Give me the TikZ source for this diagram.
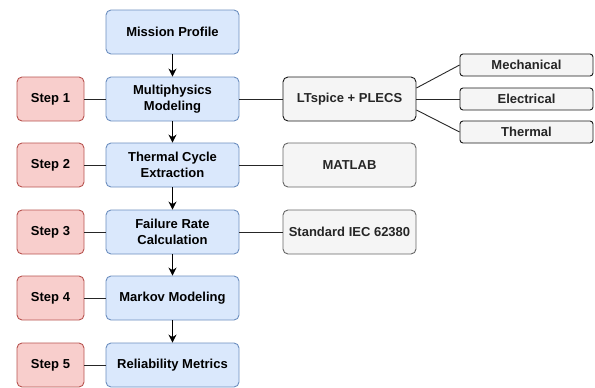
\documentclass[tikz,border=0pt]{standalone}
\usepackage{fontspec}
\setmainfont{Liberation Sans}
\usetikzlibrary{arrows.meta}

\definecolor{mainfill}{HTML}{DAE8FC}
\definecolor{maindraw}{HTML}{6C8EBF}
\definecolor{stepfill}{HTML}{F8CECC}
\definecolor{stepdraw}{HTML}{B85450}
\definecolor{toolfill}{HTML}{F5F5F5}
\definecolor{tooldraw}{HTML}{666666}

\tikzset{
  box/.style={rounded corners=5pt, inner sep=0pt, align=center, line width=0.9pt,
    minimum height=44pt, font=\fontsize{13}{16.5}\selectfont\bfseries},
  mainbox/.style={box, fill=mainfill, draw=maindraw, minimum width=133pt},
  stepbox/.style={box, fill=stepfill, draw=stepdraw, minimum width=67pt},
  toolbox/.style={box, fill=toolfill, draw=tooldraw, minimum width=133pt, text=black!85},
  domainbox/.style={box, fill=toolfill, draw=black!90, minimum width=133pt,
    minimum height=22pt, rounded corners=3pt, text=black!85},
  flow/.style={-{Stealth[length=8pt,width=8pt]}, line width=0.9pt},
  link/.style={draw=black!85, line width=0.9pt}
}

\begin{document}
\begin{tikzpicture}[x=1pt,y=-1pt]
   \useasboundingbox (0,0) rectangle (595,388);
   % main chain
   \node[mainbox] (mission) at (172.5,32) {Mission Profile};
   \node[mainbox] (multi) at (172.5,99) {Multiphysics\\Modeling};
   \node[mainbox] (cycle) at (172.5,165) {Thermal Cycle\\Extraction};
   \node[mainbox] (rate) at (172.5,232) {Failure Rate\\Calculation};
   \node[mainbox] (markov) at (172.5,298) {Markov Modeling};
   \node[mainbox] (metrics) at (172.5,365) {Reliability Metrics};
   % steps
   \node[stepbox] (s1) at (50.5,99) {Step 1};
   \node[stepbox] (s2) at (50.5,165) {Step 2};
   \node[stepbox] (s3) at (50.5,232) {Step 3};
   \node[stepbox] (s4) at (50.5,298) {Step 4};
   \node[stepbox] (s5) at (50.5,365) {Step 5};
   % tools
   \node[toolbox,draw=black!90] (plecs) at (349.5,99) {LTspice + PLECS};
   \node[toolbox] (matlab) at (349.5,165) {MATLAB};
   \node[toolbox] (iec) at (349.5,232) {Standard IEC 62380};
   \node[domainbox] (mech) at (526.5,65) {Mechanical};
   \node[domainbox] (elec) at (526.5,99) {Electrical};
   \node[domainbox] (therm) at (526.5,132) {Thermal};

   \draw[flow] (mission) -- (multi);
   \draw[flow] (multi) -- (cycle);
   \draw[flow] (cycle) -- (rate);
   \draw[flow] (rate) -- (markov);
   \draw[flow] (markov) -- (metrics);

   \foreach \s/\m in {s1/multi,s2/cycle,s3/rate,s4/markov,s5/metrics}
     \draw[link] (\s) -- (\m);
   \draw[link] (multi) -- (plecs);
   \draw[link] (cycle) -- (matlab);
   \draw[link] (rate) -- (iec);
   \draw[link] ([yshift=11pt]plecs.east) -- (mech.west);
   \draw[link] (plecs) -- (elec);
   \draw[link] ([yshift=-11pt]plecs.east) -- (therm.west);
\end{tikzpicture}
\end{document}
